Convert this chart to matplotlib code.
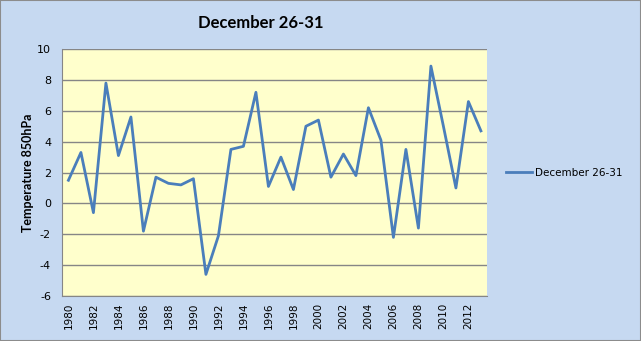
import numpy as np
import matplotlib.pyplot as plt

plt.rcParams['axes.unicode_minus'] = False

# Средняя температура на 850 гПа, 26-31 декабря
years = list(range(1980, 2014))
temps = [1.5, 3.3, -0.6, 7.8, 3.1, 5.6, -1.8, 1.7, 1.3, 1.2,
         1.6, -4.6, -2.1, 3.5, 3.7, 7.2, 1.1, 3.0, 0.9, 5.0,
         5.4, 1.7, 3.2, 1.8, 6.2, 4.1, -2.2, 3.5, -1.6, 8.9,
         5.0, 1.0, 6.6, 4.7]
series_name = 'December 26-31'
y_ticks = list(range(-6, 11, 2))

head_font = ['Lato', 'DejaVu Sans']

fig = plt.figure(figsize=(6.41, 3.41), dpi=100, facecolor='#C6D9F1')
fig.patches.append(plt.Rectangle((0, 0), 1, 1, transform=fig.transFigure,
                                 fill=False, edgecolor='#8C8C8C', linewidth=1.5))
ax = fig.add_axes([0.097, 0.132, 0.663, 0.724])
ax.set_facecolor('#FFFFCC')

x = np.arange(len(years))
ax.plot(x, temps, color='#4A7EBB', linewidth=2, label=series_name)

ax.set_xlim(-0.5, len(years) - 0.5)
ax.set_ylim(-6, 10)
ax.set_yticks(y_ticks)
ax.set_xticks(x[::2])
ax.set_xticklabels([str(y) for y in years[::2]], rotation=90, fontsize=7.5)
ax.tick_params(axis='y', labelsize=8, length=0, pad=8)
ax.tick_params(axis='x', length=0, pad=5)

ax.grid(axis='y', color='#868686', linewidth=1)
ax.set_axisbelow(True)
for side in ['top', 'right']:
    ax.spines[side].set_visible(False)
for side in ['left', 'bottom']:
    ax.spines[side].set_color('#868686')

ax.set_ylabel('Temperature 850hPa', family=head_font, fontsize=9,
              fontweight='bold', labelpad=2)
fig.text(0.407, 0.933, 'December 26-31', family=head_font, fontsize=12,
         fontweight='bold', ha='center', va='center')

ax.legend(loc='center left', bbox_to_anchor=(1.023, 0.5), frameon=False,
          fontsize=7.5, handlelength=2.5, handletextpad=0.3)

fig.savefig('out.png', dpi=100, facecolor=fig.get_facecolor())
